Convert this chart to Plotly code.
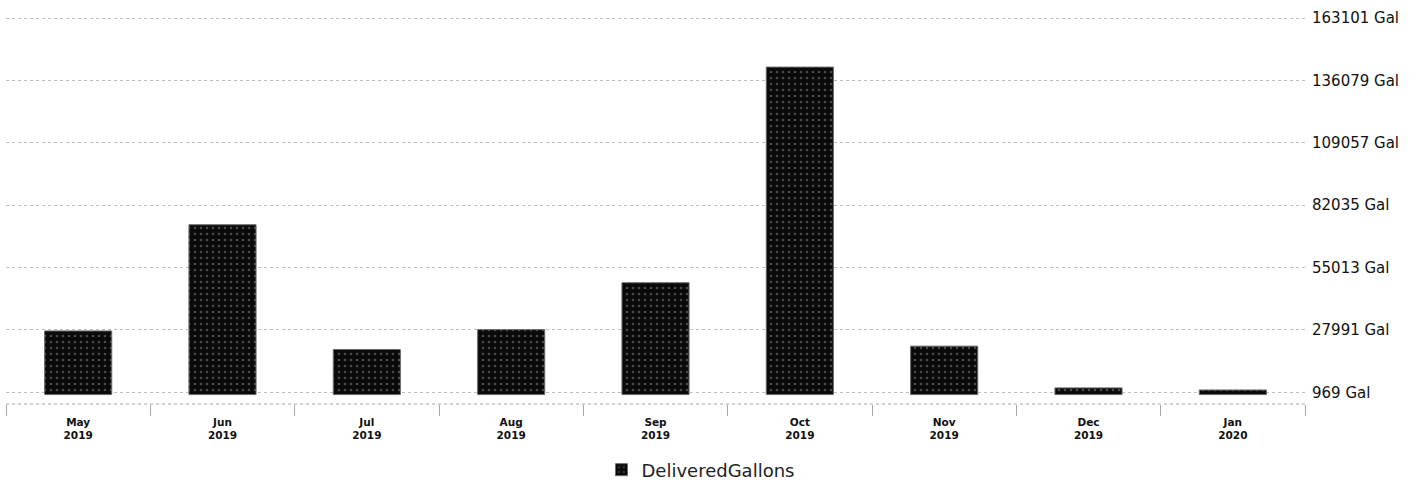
import plotly.graph_objects as go

months = ["May", "Jun", "Jul", "Aug", "Sep", "Oct", "Nov", "Dec", "Jan"]
years = ["2019", "2019", "2019", "2019", "2019", "2019", "2019", "2019", "2020"]
delivered_gallons = [27560, 73560, 19520, 28140, 48450, 141840, 20970, 2900, 2000]
y_tick_values = [969, 27991, 55013, 82035, 109057, 136079, 163101]
y_tick_labels = [f"{v} Gal" for v in y_tick_values]

x_labels = [f"<b>{m}</b><br><b>{y}</b>" for m, y in zip(months, years)]

fig = go.Figure()
fig.add_trace(go.Bar(
    x=x_labels,
    y=delivered_gallons,
    name="DeliveredGallons",
    marker=dict(
        color="#0d0d0d",
        line=dict(color="#6a6a6a", width=1),
        pattern=dict(shape=".", bgcolor="#0a0a0a", fgcolor="#8a8a8a", size=6, solidity=0.15),
    ),
))

fig.update_layout(
    width=1418, height=485,
    margin=dict(l=6, r=113, t=15, b=81),
    plot_bgcolor="white", paper_bgcolor="white",
    bargap=0.535,
    showlegend=True,
    legend=dict(orientation="h", x=0.494, xanchor="center", xref="container",
                y=0.031, yanchor="middle", yref="container",
                font=dict(family="DejaVu Sans", size=18, color="#222")),
    font=dict(family="DejaVu Sans", color="#222"),
)

fig.update_xaxes(
    type="category",
    tickson="boundaries",
    ticks="outside", ticklen=11, tickcolor="#a8a8a8", tickwidth=1,
    ticklabelstandoff=10,
    showgrid=False, showline=False, zeroline=False,
    tickfont=dict(family="DejaVu Sans", size=10.5, color="#111"),
)

fig.update_yaxes(
    side="right",
    range=[-4081, 164400],
    tickvals=y_tick_values, ticktext=y_tick_labels,
    showgrid=True, gridcolor="#bdbdbd", griddash="dot", gridwidth=1,
    zeroline=False, showline=False, ticks="",
    ticklabelstandoff=6,
    tickfont=dict(family="DejaVu Sans", size=15, color="#111"),
)

fig.add_shape(type="line", xref="paper", yref="paper", x0=0, x1=1, y0=0, y1=0,
              line=dict(color="#a8a8a8", width=1, dash="dot"))

fig.write_html("out.html", config={"displayModeBar": False},
               post_script="document.body.style.margin='0px';")
